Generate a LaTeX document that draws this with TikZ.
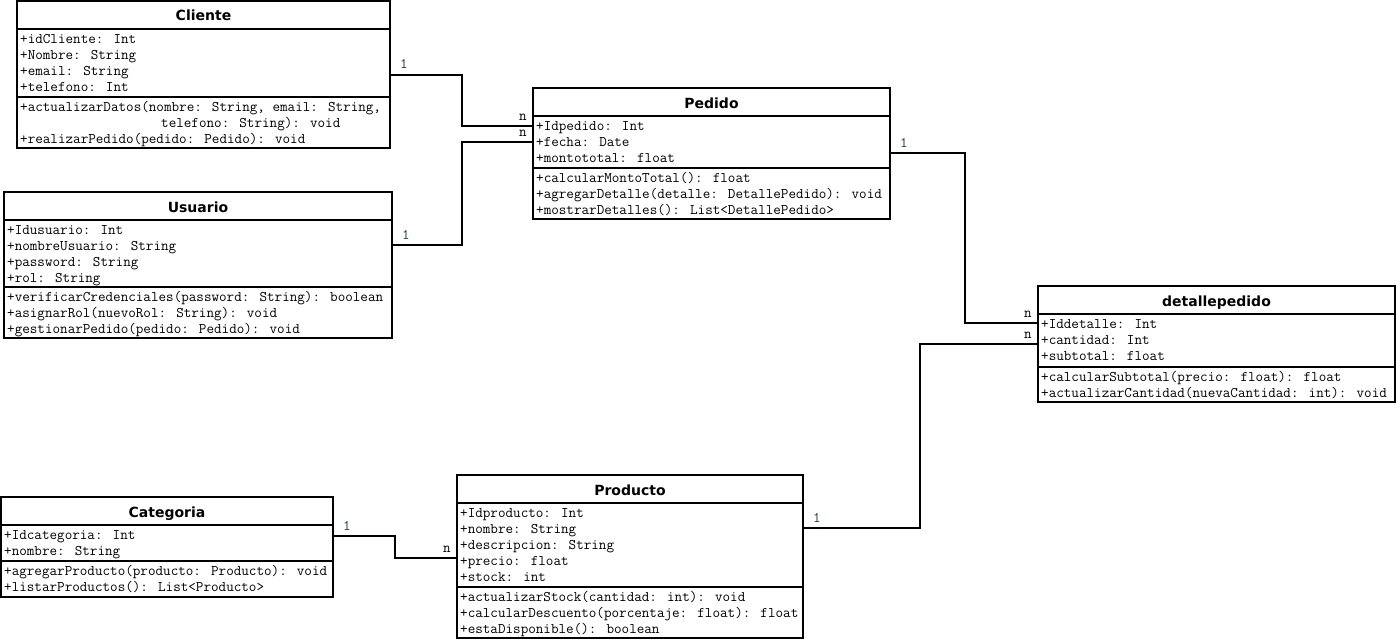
\documentclass[tikz,border=0pt]{standalone}
\usepackage{fontspec}
\setmainfont{DejaVu Sans}
\usetikzlibrary{fit}

\definecolor{multcol}{rgb}{0.16,0.24,0.24}

\newcommand\memberfont{\ttfamily\fontsize{14.7}{16}\selectfont}

\tikzset{
  classbox/.style={draw, line width=2pt, inner sep=0pt, fit={#1}},
  rule/.style={line width=2pt},
  classtitle/.style={anchor=base, inner sep=0pt, font=\fontsize{14}{16}\selectfont\bfseries},
  member/.style={anchor=base west, inner sep=0pt, font=\memberfont},
  link/.style={line width=2pt},
  multone/.style={anchor=base west, inner sep=0pt, text=multcol, font=\memberfont},
  multmany/.style={anchor=base east, inner sep=0pt, text=black, font=\memberfont},
}

% #1 name, #2 x1, #3 y1, #4 x2, #5 y2, #6 y of the attribute/method rule,
% #7 title, #8 attribute lines, #9 method lines
\newcommand\umlclass[9]{%
  \node[classbox={(#2,#3)(#4,#5)}] (#1) {};
  \node[classtitle] (#1-title) at ({(#2+#4)/2}, #3+20) {#7};
  \draw[rule] (#2,#3+28) -- (#4,#3+28);
  \draw[rule] (#2,#6) -- (#4,#6);
  \foreach \memline [count=\i from 0] in {#8}
    \node[member] (#1-a\i) at (#2+3, #3+42.5+16*\i) {\memline};
  \foreach \memline [count=\i from 0] in {#9}
    \node[member] (#1-m\i) at (#2+3, #6+14.5+16*\i) {\memline};
}

\begin{document}
\begin{tikzpicture}[x=1pt, y=-1pt]
\useasboundingbox (0,0) rectangle (1398,642);

\umlclass{cli}{17}{1}{390}{148}{97}{Cliente}
  {+idCliente: Int, +Nombre: String, +email: String, +telefono: Int}
  {{+actualizarDatos(nombre: String, email: String,},
   {\hspace*{141pt}telefono: String): void},
   +realizarPedido(pedido: Pedido): void}

\umlclass{usu}{4}{192}{392}{338}{287}{Usuario}
  {+Idusuario: Int, +nombreUsuario: String, +password: String, +rol: String}
  {+verificarCredenciales(password: String): boolean,
   +asignarRol(nuevoRol: String): void,
   +gestionarPedido(pedido: Pedido): void}

\umlclass{ped}{533}{88}{890}{219}{168}{Pedido}
  {+Idpedido: Int, +fecha: Date, +montototal: float}
  {+calcularMontoTotal(): float,
   +agregarDetalle(detalle: DetallePedido): void,
   +mostrarDetalles(): List<DetallePedido>}

\umlclass{det}{1038}{286}{1395}{402}{367}{detallepedido}
  {+Iddetalle: Int, +cantidad: Int, +subtotal: float}
  {+calcularSubtotal(precio: float): float,
   +actualizarCantidad(nuevaCantidad: int): void}

\umlclass{cat}{1}{497}{333}{597}{561}{Categoria}
  {+Idcategoria: Int, +nombre: String}
  {+agregarProducto(producto: Producto): void,
   +listarProductos(): List<Producto>}

\umlclass{pro}{457}{475}{803}{638}{587}{Producto}
  {+Idproducto: Int, +nombre: String, +descripcion: String, +precio: float, +stock: int}
  {+actualizarStock(cantidad: int): void,
   +calcularDescuento(porcentaje: float): float,
   +estaDisponible(): boolean}

% associations
\draw[link] (cli.east |- 0,75) -| (462,126) -- (ped.west |- 0,126);
\draw[link] (usu.east |- 0,245) -| (462,142) -- (ped.west |- 0,142);
\draw[link] (ped.east |- 0,153) -| (965,323) -- (det.west |- 0,323);
\draw[link] (pro.east |- 0,528) -| (920,344) -- (det.west |- 0,344);
\draw[link] (cat.east |- 0,536) -| (395,558) -- (pro.west |- 0,558);

% multiplicities
\node[multone]  (k1) at ([xshift=9pt,yshift=6pt]cli.east |- 0,75) {1};
\node[multmany] (k2) at ([xshift=-5pt,yshift=6pt]ped.west |- 0,126) {n};
\node[multone]  (k3) at ([xshift=9pt,yshift=6pt]usu.east |- 0,245) {1};
\node[multmany] (k4) at ([xshift=-5pt,yshift=6pt]ped.west |- 0,142) {n};
\node[multone]  (k5) at ([xshift=9pt,yshift=6pt]ped.east |- 0,153) {1};
\node[multmany] (k6) at ([xshift=-5pt,yshift=6pt]det.west |- 0,323) {n};
\node[multone]  (k7) at ([xshift=9pt,yshift=6pt]pro.east |- 0,528) {1};
\node[multmany] (k8) at ([xshift=-5pt,yshift=6pt]det.west |- 0,344) {n};
\node[multone]  (k9) at ([xshift=9pt,yshift=6pt]cat.east |- 0,536) {1};
\node[multmany] (k10) at ([xshift=-5pt,yshift=6pt]pro.west |- 0,558) {n};
\end{tikzpicture}
\end{document}
